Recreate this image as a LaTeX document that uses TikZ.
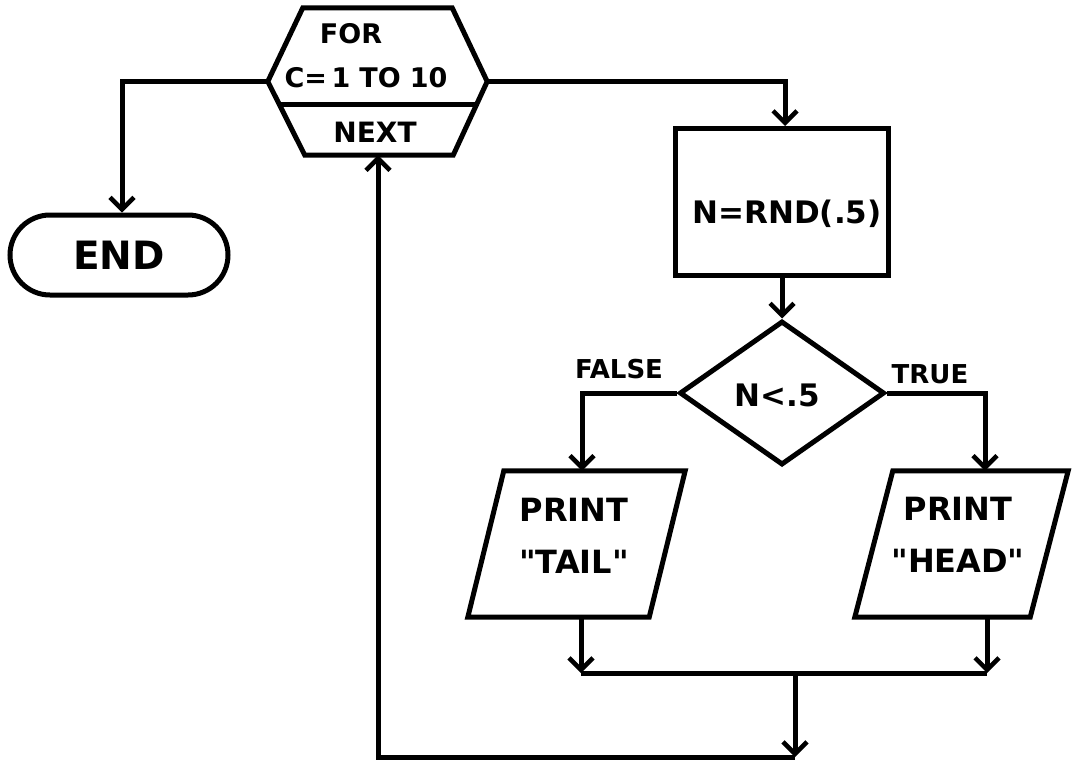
\documentclass[tikz,border=0pt]{standalone}
\usepackage{fontspec}
\setmainfont{DejaVu Sans}[Ligatures=TeXOff]
\usetikzlibrary{arrows.meta,shapes.geometric,calc}
\newcommand{\fs}[1]{\fontsize{#1}{#1}\selectfont\bfseries}
\begin{document}
\begin{tikzpicture}[x=1pt,y=-1pt,
  conn/.style={draw,line width=5pt,-{Straight Barb[length=12pt,width=24pt,line width=4.5pt]}},
  plain/.style={draw,line width=5pt},
  outline/.style={draw,line width=5pt,line join=miter},
  lbl/.style={inner sep=0pt,text=black},
  frame/.style={rectangle,inner sep=0pt},
  procbox/.style={draw,line width=5pt,rectangle,minimum width=213pt,minimum height=147pt,inner sep=0pt},
  termbox/.style={draw,line width=5pt,rectangle,rounded corners=40pt,minimum width=218pt,minimum height=80pt,inner sep=0pt},
  decbox/.style={draw,line width=5pt,diamond,minimum width=205pt,minimum height=144pt,inner sep=0pt}
]
\useasboundingbox (0,0) rectangle (1076,764);

% loop hexagon (invisible frame + drawn outline)
\node[frame,minimum width=219pt,minimum height=147pt] (hex) at (377.5,81.5) {};
\coordinate (htl) at ($(hex.north west)+(35,0)$);
\coordinate (htr) at ($(hex.north east)+(-35,0)$);
\coordinate (hbr) at ($(hex.south east)+(-34,0)$);
\coordinate (hbl) at ($(hex.south west)+(37,0)$);
\path[outline] (hex.west) -- (htl) -- (htr) -- (hex.east) -- (hbr) -- (hbl) -- cycle;
\path[plain] ($(hex.west)!0.31!(hbl)$) -- ($(hex.east)!0.31!(hbr)$);
\node[lbl,font=\fs{27}] (tfor) at (351,34) {FOR};
\node[lbl,font=\fs{27}] (tcto) at (366,78) {C=\,1\,\,TO\,\,10};
\node[lbl,font=\fs{28}] (tnext) at (375,132) {NEXT};

% end terminal
\node[termbox,font=\fs{39}] (end) at (119,255) {END};

% process
\node[procbox] (rnd) at (782,202) {};
\node[lbl,font=\fs{31}] (trnd) at (787,214) {N=RND(.5)};

% decision
\node[decbox] (dec) at (782,393) {};
\node[lbl,font=\fs{31}] (tdec) at (777,395) {N<.5};
\node[lbl,font=\fs{26}] (tfalse) at (619,369) {FALSE};
\node[lbl,font=\fs{26}] (ttrue) at (930,374) {TRUE};

% outputs (parallelograms)
\node[frame,minimum width=217pt,minimum height=146pt] (tail) at (576.5,544) {};
\path[outline] (tail.south west) -- ($(tail.north west)+(36,0)$) -- (tail.north east) -- ($(tail.south east)+(-36,0)$) -- cycle;
\node[lbl,font=\fs{32},align=center] (ttail) at (574,536) {PRINT\\[20pt]"TAIL"};
\node[frame,minimum width=213pt,minimum height=146pt] (head) at (961.5,544) {};
\path[outline] (head.south west) -- ($(head.north west)+(38,0)$) -- (head.north east) -- ($(head.south east)+(-38,0)$) -- cycle;
\node[lbl,font=\fs{32},align=center] (thead) at (958,535) {PRINT\\[20pt]"HEAD"};

% connector corners
\coordinate (lc1) at (122,81.5);
\coordinate (rc1) at (785,81.5);
\coordinate (fc) at (582,393);
\coordinate (tc) at (985,393);
\coordinate (ml) at (581,673);
\coordinate (mr) at (987,673);
\coordinate (ma) at (795,673);
\coordinate (mb) at (795,757);
\coordinate (lb) at (378,757);

% connectors
\draw[conn] (hex.west) -- (lc1) -- (lc1 |- end.north);
\draw[conn] (hex.east) -- (rc1) -- (rc1 |- rnd.north);
\draw[conn] (rnd.south) -- (dec.north);
\draw[conn] (dec.west) -- (fc) -- (fc |- tail.north);
\draw[conn] (dec.east) -- (tc) -- (tc |- head.north);
\draw[conn] (ml |- tail.south) -- (ml);
\draw[conn] (mr |- head.south) -- (mr);
\draw[plain] (ml) -- (mr);
\draw[conn] (ma) -- (mb);
\draw[conn] (mb) -- (lb) -- (lb |- hex.south);
\end{tikzpicture}
\end{document}
